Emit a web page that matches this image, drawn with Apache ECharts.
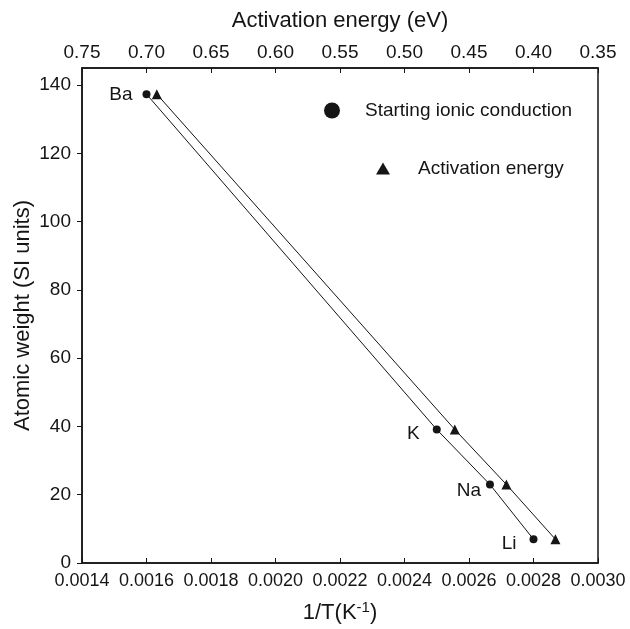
<!DOCTYPE html>
<html><head><meta charset="utf-8">
<script src="https://cdn.jsdelivr.net/npm/echarts@6/dist/echarts.min.js"></script>
<style>html,body{margin:0;padding:0;background:#fff}#c{width:630px;height:629px}</style>
</head><body><div id="c"></div>
<script>
// Data
const elements = ['Ba', 'K', 'Na', 'Li'];
const inverseT = [0.00160, 0.00250, 0.002665, 0.00280];      // 1/T (K^-1), bottom axis
const atomicWeight = [137.33, 39.10, 22.99, 6.94];            // y axis
const activationEnergy = [0.692, 0.461, 0.421, 0.383];        // eV, top axis
const seriesNames = ['Starting ionic conduction', 'Activation energy'];

// label placement styles (not data)
const labelDistance = [10, 13, 5, 13];
const labelDy = [1, 4, 6, 4];

const FONT = 'Liberation Sans, Arial, Helvetica, sans-serif';
const INK = '#151515';

const circleData = elements.map((n, i) => ({
  name: n,
  value: [inverseT[i], atomicWeight[i]],
  label: {
    show: true, formatter: n, position: 'left',
    distance: labelDistance[i], offset: [0, labelDy[i]],
    color: INK, fontSize: 19, fontFamily: FONT
  }
}));
const triData = elements.map((n, i) => ({ name: n, value: [activationEnergy[i], atomicWeight[i]] }));

const chart = echarts.init(document.getElementById('c'), null, { renderer: 'canvas' });
chart.setOption({
  animation: false,
  backgroundColor: '#fff',
  textStyle: { fontFamily: FONT, color: INK },
  grid: { left: 82, right: 32, top: 68, bottom: 66, show: true, borderColor: INK, borderWidth: 1.5, backgroundColor: 'transparent' },
  legend: [
    {
      data: [seriesNames[0]], icon: 'circle', left: 319, top: 96,
      itemWidth: 16, itemHeight: 16,
      formatter: '{g|}{t|{name}}',
      textStyle: { fontSize: 19, color: INK, fontFamily: FONT,
        rich: { g: { width: 20 }, t: { fontSize: 19, color: INK, fontFamily: FONT } } },
      selectedMode: false
    },
    {
      data: [seriesNames[1]], icon: 'triangle', left: 371, top: 154,
      itemWidth: 14, itemHeight: 12,
      formatter: '{g|}{t|{name}}',
      textStyle: { fontSize: 19, color: INK, fontFamily: FONT,
        rich: { g: { width: 23 }, t: { fontSize: 19, color: INK, fontFamily: FONT } } },
      selectedMode: false
    }
  ],
  xAxis: [
    {
      type: 'value', position: 'bottom', min: 0.0014, max: 0.0030, interval: 0.0002,
      name: '1/T(K{sup|-1})', nameLocation: 'middle', nameGap: 37,
      nameTextStyle: {
        fontSize: 22, color: INK, fontFamily: FONT,
        rich: { sup: { fontSize: 15, color: INK, fontFamily: FONT, padding: [0, 0, 11, 0] } }
      },
      axisLine: { show: true, onZero: false, lineStyle: { color: INK, width: 1.5 } },
      axisTick: { show: true, inside: true, length: 5, lineStyle: { color: INK } },
      axisLabel: { fontSize: 18, color: INK, fontFamily: FONT, margin: 9, formatter: v => v.toFixed(4) },
      splitLine: { show: false }
    },
    {
      type: 'value', position: 'top', min: 0.35, max: 0.75, interval: 0.05, inverse: true,
      name: 'Activation energy (eV)', nameLocation: 'middle', nameGap: 36,
      nameTextStyle: { fontSize: 22, color: INK, fontFamily: FONT },
      axisLine: { show: true, onZero: false, lineStyle: { color: INK, width: 1.5 } },
      axisTick: { show: true, inside: true, length: 5, lineStyle: { color: INK } },
      axisLabel: { fontSize: 19, color: INK, fontFamily: FONT, margin: 6, formatter: v => v.toFixed(2) },
      splitLine: { show: false }
    }
  ],
  yAxis: {
    type: 'value', min: 0, max: 145, interval: 20,
    name: 'Atomic weight (SI units)', nameLocation: 'middle', nameGap: 48, nameRotate: 90,
    nameMoveOverlap: false,
    nameTextStyle: { fontSize: 22, color: INK, fontFamily: FONT },
    axisLine: { show: true, onZero: false, lineStyle: { color: INK, width: 1.5 } },
    axisTick: { show: true, inside: false, length: 5, lineStyle: { color: INK } },
    axisLabel: { fontSize: 19, color: INK, fontFamily: FONT, margin: 11, showMaxLabel: false },
    splitLine: { show: false }
  },
  series: [
    {
      name: seriesNames[0], type: 'line', xAxisIndex: 0, yAxisIndex: 0,
      data: circleData, symbol: 'circle', symbolSize: 8, showSymbol: true,
      itemStyle: { color: INK }, lineStyle: { color: INK, width: 1 }, z: 3
    },
    {
      name: seriesNames[1], type: 'line', xAxisIndex: 1, yAxisIndex: 0,
      data: triData, symbol: 'triangle', symbolSize: 10, showSymbol: true,
      itemStyle: { color: INK }, lineStyle: { color: INK, width: 1 }, z: 3
    }
  ]
});
</script>
</body></html>
